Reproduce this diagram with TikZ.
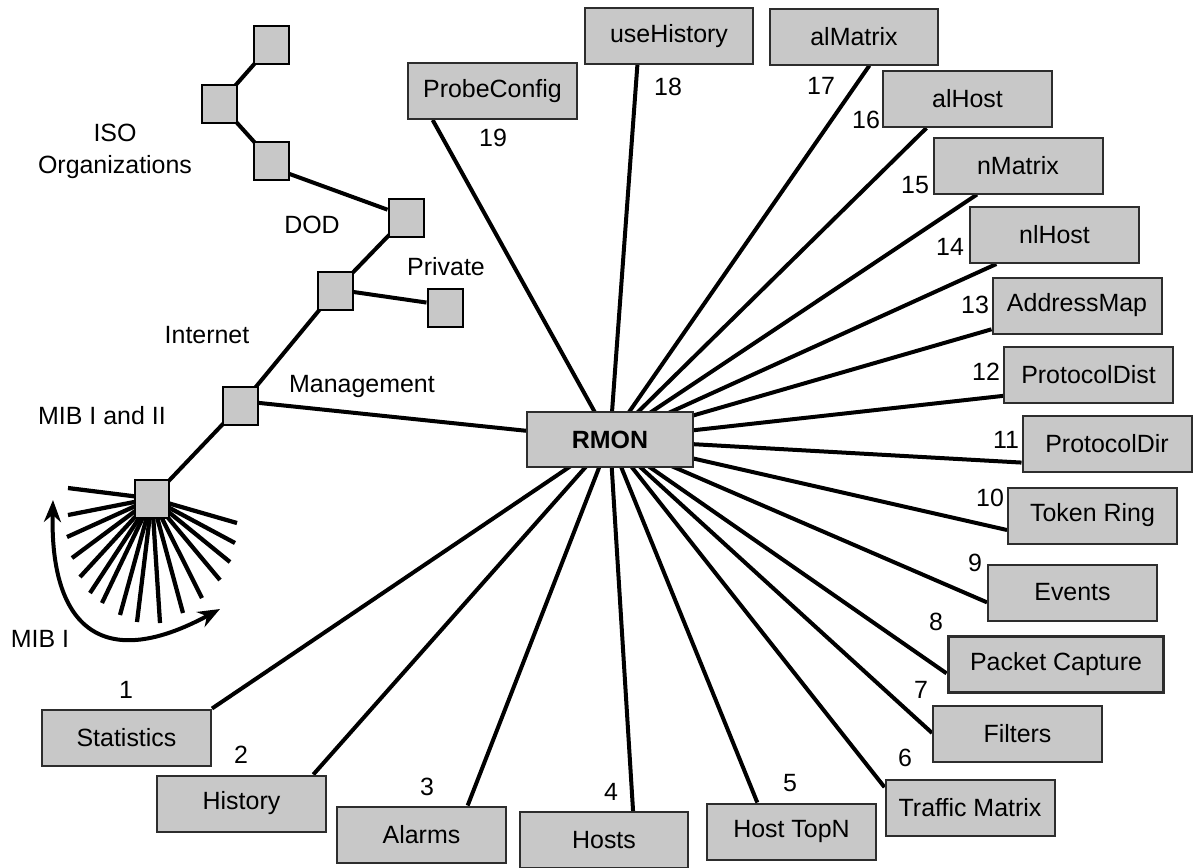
\documentclass[tikz,border=0pt]{standalone}
\usepackage{fontspec}
\setmainfont{Liberation Sans}
\usetikzlibrary{arrows.meta,calc}
\pgfdeclarelayer{back}
\pgfsetlayers{back,main}
\definecolor{boxgray}{RGB}{200,200,200}
\definecolor{edgegray}{RGB}{45,45,45}
\newcommand\lblfont{\fontsize{14.2}{18.2}\selectfont}
\tikzset{
  groupbox/.style={draw=edgegray, line width=0.04cm, fill=boxgray,
    minimum width=3.38cm, minimum height=1.12cm, inner sep=0pt, font=\lblfont},
  wideb/.style={groupbox, minimum width=4.32cm, line width=0.06cm},
  hubbox/.style={groupbox, minimum width=3.32cm, minimum height=1.1cm, font=\lblfont\bfseries},
  treesq/.style={draw=black, line width=0.04cm, fill=boxgray,
    minimum width=0.7cm, minimum height=0.76cm, inner sep=0pt},
  link/.style={line width=0.08cm, black},
  fanline/.style={line width=0.085cm, black},
  num/.style={font=\lblfont, inner sep=0pt},
  lbl/.style={font=\lblfont, inner sep=0pt, anchor=base},
  sweep/.style={line width=0.08cm, black,
    {Stealth[length=0.44cm,width=0.34cm]}-{Stealth[length=0.44cm,width=0.34cm]}}
}
\begin{document}
\begin{tikzpicture}[x=0.02cm, y=-0.02cm]
\useasboundingbox (0,0) rectangle (1199,867);

% central group
\node[hubbox] (rmon) at (610,439.5) {RMON};

% RMON groups
\node[groupbox] (b19) at (492.5,91)    {ProbeConfig};
\node[groupbox] (b18) at (669,36)      {useHistory};
\node[groupbox] (b17) at (854,36.5)    {alMatrix};
\node[groupbox] (b16) at (967.5,99)    {alHost};
\node[groupbox] (b15) at (1018,165.5)  {nMatrix};
\node[groupbox] (b14) at (1054.5,235)  {nlHost};
\node[groupbox] (b13) at (1077,305.5)  {AddressMap};
\node[groupbox] (b12) at (1088.5,375)  {ProtocolDist};
\node[groupbox] (b11) at (1107,444)    {ProtocolDir};
\node[groupbox] (b10) at (1092.5,515.5){Token Ring};
\node[groupbox] (b9)  at (1072.5,592.5){Events};
\node[wideb]    (b8)  at (1056,664.5)  {Packet Capture};
\node[groupbox] (b7)  at (1017.5,733.5){Filters};
\node[groupbox] (b6)  at (970,807.5)   {Traffic Matrix};
\node[groupbox] (b5)  at (791.5,831.5) {Host TopN};
\node[groupbox] (b4)  at (604,840)     {Hosts};
\node[groupbox] (b3)  at (421.5,834.5) {Alarms};
\node[groupbox] (b2)  at (241.5,803.5) {History};
\node[groupbox] (b1)  at (126.5,737.5) {Statistics};

% group numbers
\node[num] (n19) at (493,138) {19};
\node[num] (n18) at (668,87)  {18};
\node[num] (n17) at (821,86)  {17};
\node[num] (n16) at (866,120) {16};
\node[num] (n15) at (915,185) {15};
\node[num] (n14) at (950,247) {14};
\node[num] (n13) at (975,305) {13};
\node[num] (n12) at (986,372) {12};
\node[num] (n11) at (1006,440){11};
\node[num] (n10) at (990,498) {10};
\node[num] (n9)  at (975,563) {9};
\node[num] (n8)  at (936,622) {8};
\node[num] (n7)  at (921,690) {7};
\node[num] (n6)  at (905,758) {6};
\node[num] (n5)  at (790,783) {5};
\node[num] (n4)  at (611,792) {4};
\node[num] (n3)  at (427,787) {3};
\node[num] (n2)  at (241,755) {2};
\node[num] (n1)  at (126,690) {1};

% object identifier tree, top to bottom
\node[treesq] (t1) at (271,45)     {};
\node[treesq] (t2) at (219.5,103.5){};
\node[treesq] (t3) at (271,160.5)  {};
\node[treesq] (t4) at (406,217.5)  {};
\node[treesq] (t5) at (335,291)    {};
\node[treesq] (t6) at (445,307.5)  {};
\node[treesq] (t7) at (240.5,405.5){};
\node[treesq] (t8) at (152,498.5)  {};

% tree labels
\node[lbl, anchor=north, align=center] (isolbl) at (115,124) {ISO\\Organizations};
\node[lbl] (dodlbl)  at (312,233) {DOD};
\node[lbl] (privlbl) at (446,275) {Private};
\node[lbl] (inetlbl) at (207,343) {Internet};
\node[lbl] (mgmtlbl) at (362,392) {Management};
\node[lbl] (miblbl)  at (102,424) {MIB I and II};
\node[lbl] (mib1lbl) at (40,647)  {MIB I};

% sweep marking the MIB I range
\coordinate (sweepA) at (53,500);
\coordinate (sweepB) at (220,609);
\draw[sweep] (sweepA) .. controls (50,622) and (98,675) .. (sweepB);

\begin{pgfonlayer}{back}
  % tree branches
  \draw[link] (t1.center) -- (t2.center);
  \draw[link] (t2.center) -- (t3.center);
  \draw[link] (t3.-36) -- (t4.157);
  \draw[link] (t4.center) -- (t5.center);
  \draw[link] (t5.-3) -- (t6.165);
  \draw[link] (t5.center) -- (t7.center);
  \draw[link] (t7.8) -- (rmon.center);
  \draw[link] (t7.center) -- (t8.center);
  % fan of MIB objects
  \foreach \p in {(68,488),(68,515),(67,537),(72,558),(80,577),(90,593),
                  (102,603),(120,615),(137,622),(160,623),(183,613),(202,598),
                  (220,580),(230,562),(235,543),(237,523)}
    \draw[fanline] (t8.center) -- \p;
  % RMON group links
  \draw[link] ($(b19.south west)!0.15!(b19.south east)$) -- (rmon.center);
  \draw[link] ($(b18.south west)!0.315!(b18.south east)$) -- (rmon.center);
  \draw[link] ($(b17.south west)!0.59!(b17.south east)$) -- (rmon.center);
  \draw[link] ($(b16.south west)!0.26!(b16.south east)$) -- (rmon.center);
  \draw[link] ($(b15.south west)!0.26!(b15.south east)$) -- (rmon.center);
  \draw[link] ($(b14.south west)!0.16!(b14.south east)$) -- (rmon.center);
  \draw[link] ($(b13.south west)!0.09!(b13.north west)$) -- (rmon.center);
  \draw[link] ($(b12.south west)!0.14!(b12.north west)$) -- (rmon.center);
  \draw[link] ($(b11.south west)!0.18!(b11.north west)$) -- (rmon.center);
  \draw[link] ($(b10.south west)!0.25!(b10.north west)$) -- (rmon.center);
  \draw[link] ($(b9.south west)!0.33!(b9.north west)$) -- (rmon.center);
  \draw[link] ($(b8.south west)!0.35!(b8.north west)$) -- (rmon.center);
  \draw[link] ($(b7.south west)!0.51!(b7.north west)$) -- (rmon.center);
  \draw[link] ($(b6.south west)!0.85!(b6.north west)$) -- (rmon.center);
  \draw[link] ($(b5.north west)!0.30!(b5.north east)$) -- (rmon.center);
  \draw[link] ($(b4.north west)!0.67!(b4.north east)$) -- (rmon.center);
  \draw[link] ($(b3.north west)!0.77!(b3.north east)$) -- (rmon.center);
  \draw[link] ($(b2.north west)!0.92!(b2.north east)$) -- (rmon.center);
  \draw[link] (b1.north east) -- (rmon.center);
\end{pgfonlayer}
\end{tikzpicture}
\end{document}
